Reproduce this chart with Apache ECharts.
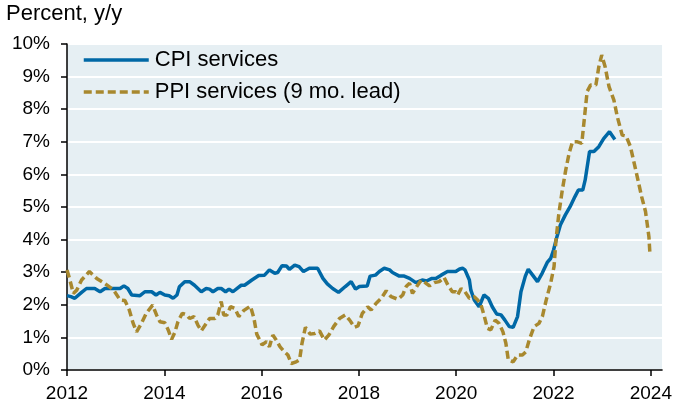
<!DOCTYPE html>
<html>
<head>
<meta charset="utf-8">
<script src="https://cdn.jsdelivr.net/npm/echarts@6/dist/echarts.min.js"></script>
<style>
html,body{margin:0;padding:0;background:#fff;}
#chart{width:675px;height:407px;}
</style>
</head>
<body>
<div id="chart"></div>
<script>
// ---- Data ----
const xTickLabels = [2012, 2014, 2016, 2018, 2020, 2022, 2024];
const seriesNames = ['CPI services', 'PPI services (9 mo. lead)'];

const cpiDates = [2012.00,2012.08,2012.16,2012.30,2012.40,2012.57,2012.68,2012.78,2013.09,2013.17,2013.25,2013.33,2013.50,2013.60,2013.74,2013.83,2013.91,2014.01,2014.10,2014.18,2014.26,2014.31,2014.42,2014.52,2014.62,2014.76,2014.86,2014.93,2015.00,2015.10,2015.17,2015.26,2015.33,2015.41,2015.51,2015.58,2015.65,2015.80,2015.94,2016.06,2016.16,2016.27,2016.33,2016.42,2016.51,2016.57,2016.68,2016.77,2016.86,2016.98,2017.15,2017.26,2017.35,2017.46,2017.58,2017.72,2017.84,2017.93,2018.01,2018.17,2018.23,2018.34,2018.42,2018.52,2018.63,2018.69,2018.83,2018.93,2019.04,2019.17,2019.30,2019.39,2019.50,2019.58,2019.69,2019.82,2019.99,2020.07,2020.13,2020.18,2020.27,2020.30,2020.37,2020.47,2020.51,2020.57,2020.66,2020.74,2020.83,2020.92,2021.00,2021.09,2021.17,2021.26,2021.33,2021.42,2021.48,2021.57,2021.67,2021.77,2021.87,2021.94,2022.00,2022.07,2022.14,2022.24,2022.34,2022.44,2022.51,2022.60,2022.65,2022.74,2022.83,2022.93,2023.03,2023.15,2023.26];
const cpiValues = [2.28,2.25,2.20,2.38,2.50,2.50,2.40,2.50,2.50,2.58,2.50,2.30,2.28,2.40,2.40,2.30,2.38,2.30,2.28,2.20,2.30,2.55,2.71,2.71,2.60,2.40,2.50,2.48,2.40,2.50,2.50,2.40,2.48,2.40,2.52,2.60,2.60,2.76,2.90,2.91,3.07,2.97,2.99,3.20,3.19,3.09,3.22,3.17,3.02,3.12,3.12,2.81,2.64,2.50,2.38,2.56,2.71,2.48,2.56,2.58,2.88,2.91,3.02,3.12,3.07,2.99,2.88,2.88,2.81,2.68,2.76,2.73,2.81,2.81,2.91,3.02,3.02,3.10,3.12,3.07,2.76,2.45,2.15,1.94,1.89,2.30,2.20,1.94,1.72,1.69,1.53,1.33,1.31,1.64,2.40,2.88,3.09,2.91,2.71,2.98,3.30,3.42,3.68,4.09,4.45,4.75,5.01,5.32,5.52,5.52,5.83,6.70,6.70,6.85,7.10,7.31,7.07];

const ppiDates = [2012.00,2012.06,2012.13,2012.20,2012.30,2012.46,2012.61,2012.75,2012.88,2012.96,2013.09,2013.19,2013.28,2013.36,2013.43,2013.53,2013.63,2013.76,2013.84,2013.91,2014.01,2014.08,2014.15,2014.22,2014.28,2014.37,2014.46,2014.52,2014.61,2014.69,2014.76,2014.84,2014.93,2015.04,2015.10,2015.17,2015.22,2015.29,2015.36,2015.45,2015.53,2015.63,2015.77,2015.84,2015.90,2016.01,2016.10,2016.16,2016.23,2016.30,2016.38,2016.47,2016.54,2016.61,2016.71,2016.78,2016.83,2016.90,2017.00,2017.09,2017.19,2017.29,2017.38,2017.48,2017.60,2017.72,2017.81,2017.91,2017.98,2018.07,2018.18,2018.25,2018.35,2018.46,2018.56,2018.66,2018.80,2018.90,2018.97,2019.04,2019.10,2019.21,2019.28,2019.38,2019.45,2019.55,2019.65,2019.75,2019.83,2019.92,2019.99,2020.03,2020.10,2020.18,2020.27,2020.37,2020.44,2020.51,2020.57,2020.64,2020.71,2020.80,2020.88,2020.96,2021.02,2021.07,2021.17,2021.26,2021.36,2021.43,2021.50,2021.60,2021.70,2021.77,2021.85,2021.94,2022.01,2022.05,2022.11,2022.18,2022.25,2022.32,2022.39,2022.49,2022.58,2022.63,2022.69,2022.76,2022.87,2022.93,2022.99,2023.06,2023.14,2023.24,2023.31,2023.41,2023.49,2023.58,2023.69,2023.81,2023.89,2023.96,2023.98];
const ppiValues = [3.07,2.76,2.35,2.45,2.76,3.02,2.81,2.68,2.54,2.45,2.15,2.13,1.84,1.43,1.17,1.43,1.74,1.99,1.69,1.48,1.45,1.23,0.94,1.17,1.48,1.74,1.69,1.58,1.64,1.38,1.20,1.38,1.58,1.58,1.69,2.10,1.69,1.69,1.94,1.89,1.64,1.82,1.96,1.60,1.10,0.77,0.87,0.71,1.07,0.92,0.71,0.56,0.46,0.20,0.25,0.31,0.82,1.31,1.10,1.12,1.20,0.92,1.07,1.33,1.58,1.69,1.53,1.31,1.35,1.74,1.94,1.84,2.04,2.20,2.43,2.25,2.17,2.30,2.56,2.66,2.35,2.61,2.76,2.66,2.58,2.68,2.71,2.84,2.60,2.40,2.40,2.30,2.50,2.40,2.20,2.25,2.15,1.99,1.69,1.28,1.23,1.53,1.43,1.17,0.82,0.31,0.25,0.46,0.46,0.56,0.92,1.33,1.43,1.64,2.15,2.66,3.17,3.99,4.81,5.52,6.13,6.65,7.00,7.00,6.95,7.67,8.54,8.74,8.74,9.30,9.66,9.30,8.69,8.28,7.77,7.21,7.18,6.85,6.13,5.32,4.86,4.09,3.58];

// ---- Chart ----
const FONT = '"Liberation Sans", Arial, sans-serif';
const cpiData = cpiDates.map((d, i) => [d, cpiValues[i]]);
const ppiData = ppiDates.map((d, i) => [d, ppiValues[i]]);

const chart = echarts.init(document.getElementById('chart'), null, {renderer: 'canvas'});
chart.setOption({
  animation: false,
  backgroundColor: '#ffffff',
  title: {
    text: 'Percent, y/y',
    left: 6, top: 3,
    padding: 0,
    textStyle: {fontFamily: FONT, fontSize: 22, fontWeight: 'normal', color: '#000'}
  },
  legend: {
    orient: 'vertical',
    left: 82, top: 49,
    padding: 0,
    itemWidth: 65, itemHeight: 14, itemGap: 10,
    data: seriesNames,
    itemStyle: {color: 'rgba(0,0,0,0)', borderColor: 'rgba(0,0,0,0)', borderWidth: 0, opacity: 0},
    lineStyle: {width: 3.5},
    textStyle: {fontFamily: FONT, fontSize: 22, color: '#000', lineHeight: 22, padding: [0,0,0,1]}
  },
  grid: {
    left: 67, right: 12, top: 44, bottom: 37,
    show: true, backgroundColor: '#E6EFF3', borderWidth: 0
  },
  xAxis: {
    type: 'value',
    min: 2012, max: 2024.23,
    axisLine: {show: true, onZero: false, lineStyle: {color: '#000', width: 1.5}},
    axisTick: {show: true, length: 6, customValues: xTickLabels, lineStyle: {color: '#000', width: 1.5}},
    axisLabel: {
      customValues: xTickLabels,
      margin: 14,
      fontFamily: FONT, fontSize: 19, color: '#000',
      formatter: v => String(Math.round(v))
    },
    splitLine: {show: false}
  },
  yAxis: {
    type: 'value',
    min: 0, max: 10, interval: 1,
    axisLine: {show: true, lineStyle: {color: '#000', width: 1.5}},
    axisTick: {show: true, length: 6, lineStyle: {color: '#000', width: 1.5}},
    axisLabel: {margin: 17, fontFamily: FONT, fontSize: 19, color: '#000', formatter: '{value}%'},
    splitLine: {show: true, lineStyle: {color: '#ffffff', width: 2}}
  },
  series: [
    {
      name: seriesNames[0],
      type: 'line',
      data: cpiData,
      showSymbol: false, symbol: 'none',
      lineStyle: {color: '#0068A6', width: 3.5},
      itemStyle: {color: '#0068A6'},
      z: 2
    },
    {
      name: seriesNames[1],
      type: 'line',
      data: ppiData,
      showSymbol: false, symbol: 'none',
      lineStyle: {color: '#A8882E', width: 3.5, type: [8, 4]},
      itemStyle: {color: '#A8882E'},
      z: 3
    }
  ]
});
</script>
</body>
</html>
